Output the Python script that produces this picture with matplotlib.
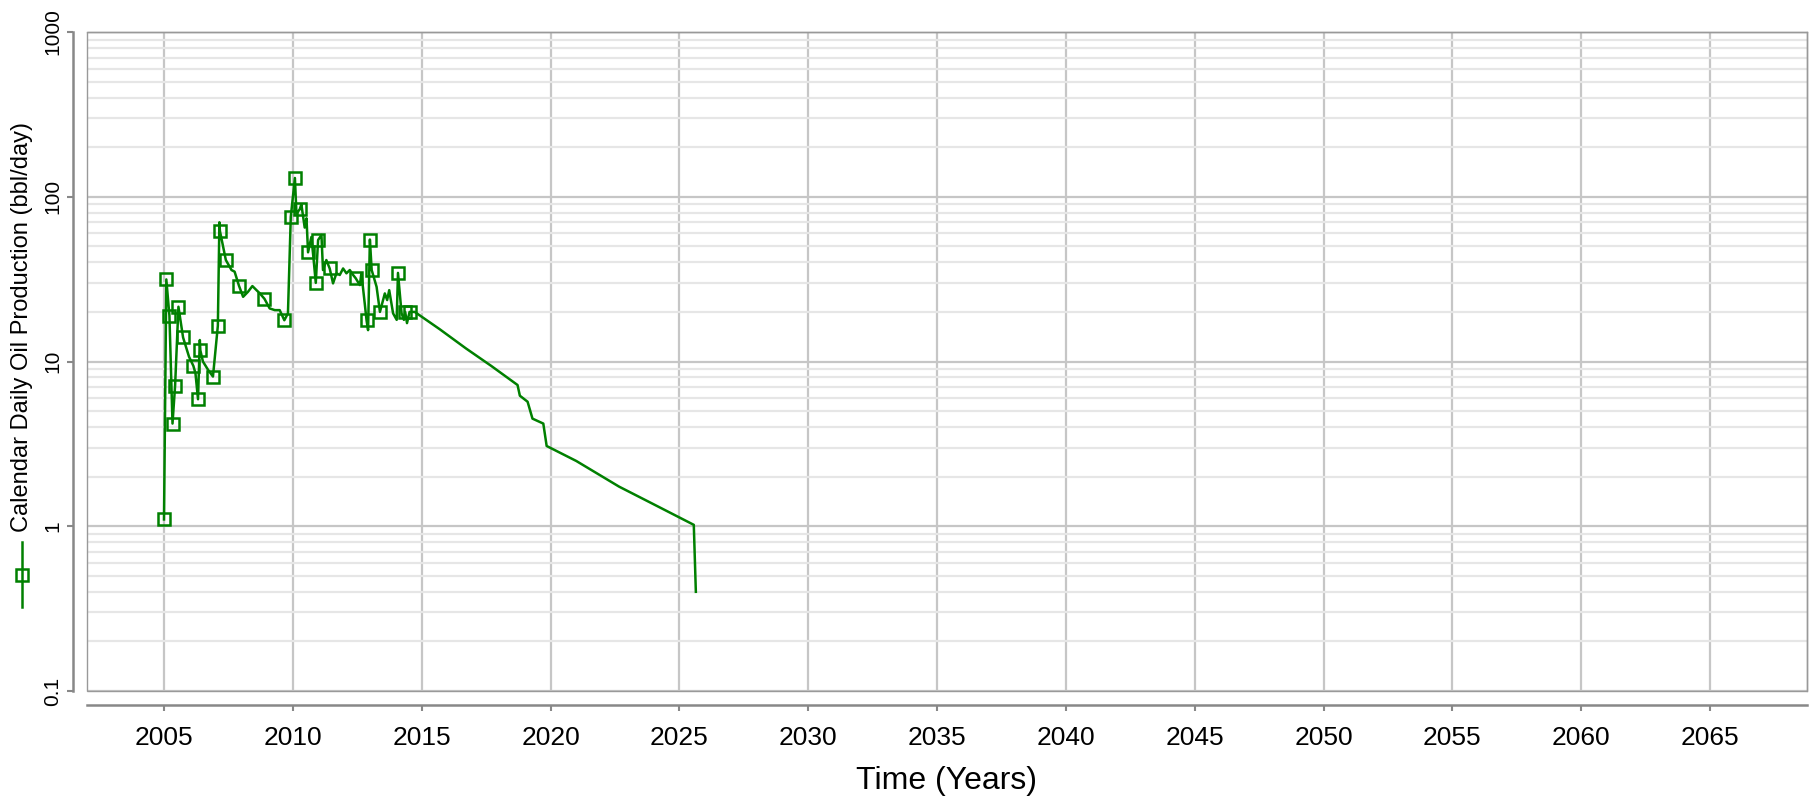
import numpy as np
import matplotlib
matplotlib.use('Agg')
import matplotlib.pyplot as plt
from matplotlib.lines import Line2D
from matplotlib.patches import Rectangle
from matplotlib.ticker import FixedLocator, FixedFormatter, LogLocator, NullFormatter

plt.rcParams['font.family'] = ['Liberation Sans', 'DejaVu Sans']

# calendar daily oil rate, history then forecast
years = [2005.00, 2005.09, 2005.21, 2005.33, 2005.43, 2005.56, 2005.74, 2005.97,
         2006.14, 2006.22, 2006.32, 2006.39, 2006.41, 2006.51, 2006.71, 2006.90,
         2007.09, 2007.15, 2007.17, 2007.40, 2007.62, 2007.74, 2007.91, 2008.07,
         2008.26, 2008.43, 2008.59, 2008.72, 2008.90, 2009.10, 2009.30, 2009.49,
         2009.67, 2009.81, 2009.92, 2010.08, 2010.14, 2010.27, 2010.33, 2010.46,
         2010.53, 2010.59, 2010.72, 2010.81, 2010.89, 2010.98, 2011.11, 2011.17,
         2011.30, 2011.43, 2011.56, 2011.69, 2011.82, 2011.95, 2012.08, 2012.21,
         2012.34, 2012.44, 2012.60, 2012.66, 2012.79, 2012.86, 2012.92, 2012.99,
         2013.06, 2013.25, 2013.38, 2013.57, 2013.66, 2013.74, 2013.89, 2014.03,
         2014.08, 2014.22, 2014.31, 2014.36, 2014.43, 2014.53, 2014.73, 2015.70,
         2016.72, 2017.70, 2018.72, 2018.81, 2019.11, 2019.30, 2019.72, 2019.85,
         2021.00, 2022.66, 2024.00, 2025.56, 2025.64]
oil_rate = [1.1, 31.5, 19.0, 4.2, 7.1, 21.5, 14.0, 10.7,
            9.4, 8.5, 5.9, 13.5, 11.7, 10.0, 8.9, 8.1,
            16.5, 70.0, 62.0, 41.3, 35.9, 35.1, 28.8, 24.7,
            26.5, 28.7, 27.1, 25.9, 24.0, 21.0, 20.5, 20.5,
            17.8, 19.6, 75.5, 130.0, 79.0, 84.0, 90.0, 65.0,
            74.0, 46.0, 57.0, 41.0, 30.0, 54.6, 58.6, 35.9,
            41.3, 36.7, 29.8, 34.3, 33.5, 36.7, 34.3, 35.9,
            33.5, 32.0, 29.1, 34.3, 22.5, 17.8, 15.5, 55.0,
            35.9, 28.4, 20.0, 25.9, 23.6, 27.1, 19.6, 17.9,
            34.5, 19.6, 17.9, 20.0, 17.1, 20.0, 20.0, 15.7,
            12.0, 9.4, 7.2, 6.2, 5.7, 4.5, 4.2, 3.07,
            2.49, 1.74, 1.36, 1.02, 0.40]
# points that carry a square marker
marker_idx = [0, 1, 2, 3, 4, 5, 6, 8, 10, 12, 15, 16, 18, 19, 22, 28, 32, 34,
              35, 37, 41, 44, 45, 49, 57, 61, 63, 64, 66, 72, 75, 77]

xticks = list(range(2005, 2066, 5))
yticks = [0.1, 1, 10, 100, 1000]
ytick_labels = ['0.1', '1', '10', '100', '1000']

W, H = 1812, 801
green = '#008000'
ax_left, ax_right, ax_top, ax_bottom = 86.7, 1806.7, 32, 691

fig = plt.figure(figsize=(W / 100, H / 100), dpi=100)
ax = fig.add_axes([ax_left / W, 1 - ax_bottom / H,
                   (ax_right - ax_left) / W, (ax_bottom - ax_top) / H])

ax.plot(years, oil_rate, color=green, lw=1.8, marker='s', ms=9,
        mfc='none', mec=green, mew=1.8, markevery=marker_idx, zorder=3)

ax.set_yscale('log')
ax.set_ylim(0.1, 1000)
ax.set_xlim(2002, 2068.75)

ax.xaxis.set_major_locator(FixedLocator(xticks))
ax.xaxis.set_major_formatter(FixedFormatter([str(t) for t in xticks]))
ax.yaxis.set_major_locator(FixedLocator(yticks))
ax.yaxis.set_major_formatter(NullFormatter())
ax.yaxis.set_minor_locator(LogLocator(base=10, subs=np.arange(2, 10)))
ax.yaxis.set_minor_formatter(NullFormatter())

ax.grid(which='major', axis='both', color='#c6c6c6', lw=1.6)
ax.grid(which='minor', axis='y', color='#e6e6e6', lw=1.6)
ax.set_axisbelow(True)

ax.tick_params(axis='y', which='minor', length=0)
ax.tick_params(axis='x', which='major', length=4.3, width=1.5, color='#888888',
               pad=11, labelsize=19)
ax.tick_params(axis='y', which='major', length=4.3, width=1.5, color='#888888')

for s in ['left', 'bottom']:
    ax.spines[s].set_position(('outward', 10))
    ax.spines[s].set_color('#888888')
    ax.spines[s].set_linewidth(1.8)
for s in ['top', 'right']:
    ax.spines[s].set_color('#999999')
    ax.spines[s].set_linewidth(1.0)
ax.add_patch(Rectangle((0, 0), 1, 1, transform=ax.transAxes, fill=False,
                       ec='#999999', lw=1.0, clip_on=False, zorder=4))

# y tick labels written sideways next to the offset spine
ylab_trans = ax.get_yaxis_transform()
ylab_x = (53 - ax_left) / (ax_right - ax_left)
for v, s in zip(yticks, ytick_labels):
    ax.text(ylab_x, v, s, transform=ylab_trans, rotation=90,
            ha='center', va='center', fontsize=15, clip_on=False)

ax.set_xlabel('Time (Years)', fontsize=23, va='center')
ax.xaxis.set_label_coords(0.5, -(781 - ax_bottom) / (ax_bottom - ax_top))

# rotated legend entry doubling as the y axis title
fig.text(22 / W, 1 - 326.7 / H, 'Calendar Daily Oil Production (bbl/day)',
         rotation=90, ha='center', va='center', fontsize=17)
fig.add_artist(Line2D([22.3 / W, 22.3 / W], [1 - 541.7 / H, 1 - 606.7 / H],
                      transform=fig.transFigure, color=green, lw=1.8))
fig.add_artist(Line2D([22.3 / W], [1 - 575 / H], transform=fig.transFigure,
                      marker='s', ms=9, mfc='none', mec=green, mew=1.8,
                      color=green, lw=0))

fig.savefig('out.png', dpi=100)
